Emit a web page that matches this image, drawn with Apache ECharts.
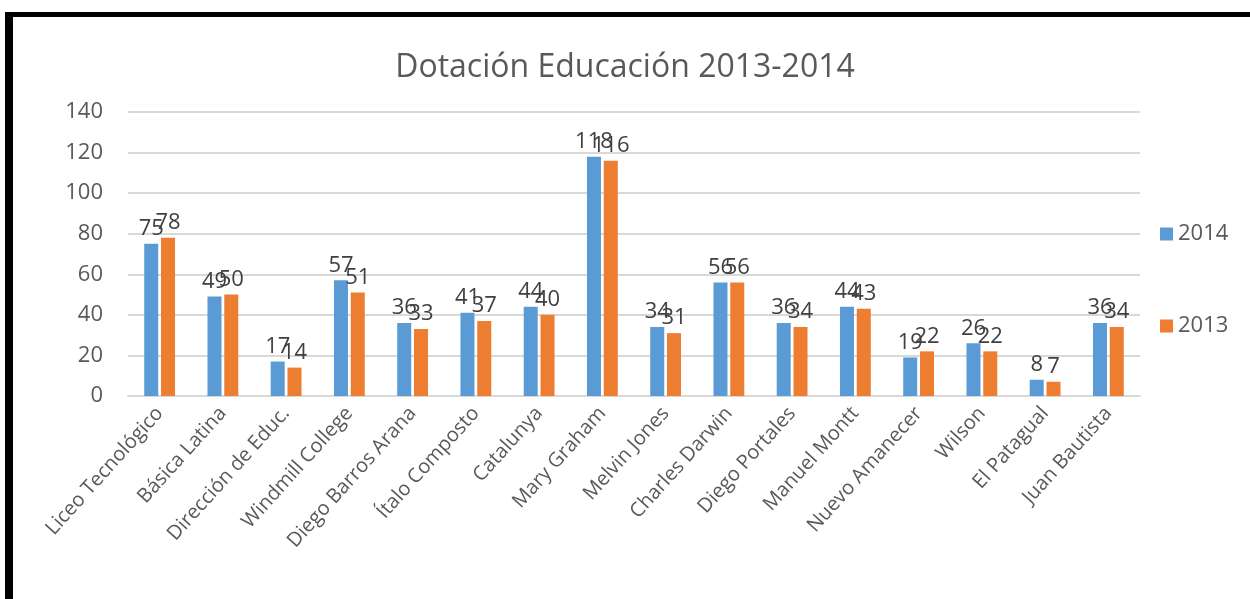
<!DOCTYPE html>
<html>
<head>
<meta charset="utf-8">
<script src="https://cdn.jsdelivr.net/npm/echarts@6/dist/echarts.min.js"></script>
<style>
html,body{margin:0;padding:0;background:#fff;}
#chart{width:1250px;height:599px;}
</style>
</head>
<body>
<div id="chart"></div>
<script>
const categories = ["Liceo Tecnológico","Básica Latina","Dirección de Educ.","Windmill College","Diego Barros Arana","Ítalo Composto","Catalunya","Mary Graham","Melvin Jones","Charles Darwin","Diego Portales","Manuel Montt","Nuevo Amanecer","Wilson","El Patagual","Juan Bautista"];
const values2014 = [75,49,17,57,36,41,44,118,34,56,36,44,19,26,8,36];
const values2013 = [78,50,14,51,33,37,40,116,31,56,34,43,22,22,7,34];
const seriesNames = ["2014","2013"];
const titleText = "Dotación Educación 2013-2014";

const FONT = "Open Sans";
const chart = echarts.init(document.getElementById('chart'));
const labelStyle = {show:true, position:'top', distance:4, fontFamily:FONT, fontSize:22, color:'#404040'};
chart.setOption({
  animation:false,
  backgroundColor:'#fff',
  title:{text:titleText, left:'center', top:47, textStyle:{fontFamily:FONT, fontSize:32, fontWeight:'normal', color:'#595959'}},
  grid:{left:128, right:110, top:112, bottom:203, containLabel:false},
  legend:{orient:'vertical', left:1155, top:218, itemGap:70, itemWidth:13, itemHeight:13, icon:'rect',
    textStyle:{fontFamily:FONT, fontSize:22, color:'#595959'}, data:seriesNames},
  xAxis:{type:'category', data:categories,
    axisLine:{lineStyle:{color:'#d9d9d9', width:2}}, axisTick:{show:false},
    axisLabel:{rotate:48, interval:0, margin:14, fontFamily:FONT, fontSize:20, color:'#595959'}},
  yAxis:{type:'value', min:0, max:140, interval:20,
    axisLine:{show:false}, axisTick:{show:false},
    splitLine:{lineStyle:{color:'#d9d9d9', width:2}},
    axisLabel:{margin:25, fontFamily:FONT, fontSize:22, color:'#595959'}},
  series:[
    {name:seriesNames[0], type:'bar', data:values2014, barWidth:14, barGap:'20%', itemStyle:{color:'#5B9BD5'}, label:labelStyle},
    {name:seriesNames[1], type:'bar', data:values2013, barWidth:14, barGap:'20%', itemStyle:{color:'#ED7D31'}, label:labelStyle}
  ],
  graphic:[
    {type:'rect', shape:{x:5, y:12, width:1245, height:5}, style:{fill:'#000'}, z:100},
    {type:'rect', shape:{x:5, y:12, width:8, height:587}, style:{fill:'#000'}, z:100}
  ]
});
</script>
</body>
</html>
